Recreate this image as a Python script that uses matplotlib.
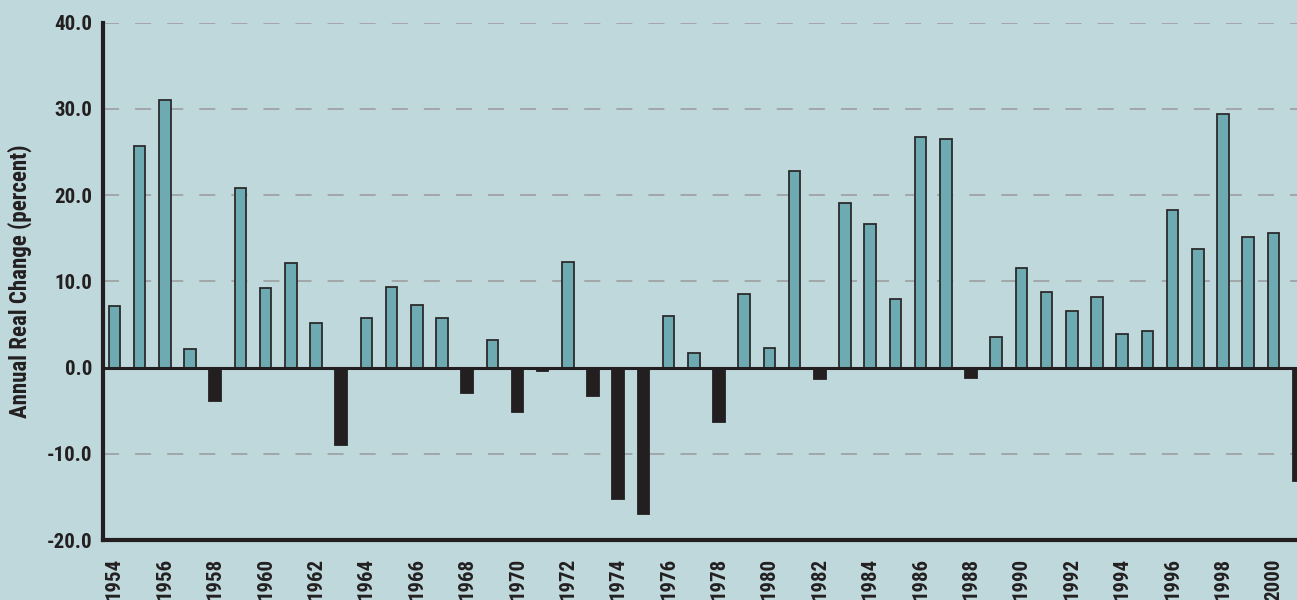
import numpy as np
import matplotlib
matplotlib.use("Agg")
import matplotlib.pyplot as plt

# annual real change (percent), 1954-2001
years = np.arange(1954, 2002)
values = [7.1, 25.7, 31.0, 2.1, -3.9, 20.8, 9.2, 12.1, 5.2, -9.0,
          5.8, 9.4, 7.2, 5.8, -3.0, 3.2, -5.2, -0.4, 12.3, -3.3,
          -15.2, -17.0, 6.0, 1.7, -6.3, 8.5, 2.3, 22.8, -1.3, 19.1,
          16.6, 8.0, 26.8, 26.5, -1.2, 3.6, 11.6, 8.8, 6.6, 8.2,
          3.9, 4.2, 18.3, 13.8, 29.4, 15.2, 15.6, -13.2]
tick_years = np.arange(1954, 2001, 2)
y_ticks = [-20, -10, 0, 10, 20, 30, 40]

plt.rcParams['font.family'] = ['Roboto Condensed', 'DejaVu Sans']

bg = '#bfd8dc'
pos_col = '#6eaab2'
neg_col = '#231f20'
ink = '#231f20'

fig = plt.figure(figsize=(12.97, 6), dpi=100, facecolor=bg)
ax = fig.add_axes([103.3 / 1297, (600 - 540) / 600, (1297 - 103.3) / 1297, (540 - 22.7) / 600])
ax.set_facecolor(bg)

vals = np.array(values)
colors = [pos_col if v >= 0 else neg_col for v in vals]
edges = ['#2b2b2b' if v >= 0 else neg_col for v in vals]
ax.bar(years, vals, width=0.46, color=colors, edgecolor=edges, linewidth=1.3, zorder=3)

ax.axhline(0, color=ink, linewidth=2.2, zorder=4)
# dashed grey guide lines
for y in [-10, 10, 20, 30, 40]:
    ax.axhline(y, color='#9a9a9a', linewidth=1.1, dashes=(10.5, 10.5), zorder=1)

ax.set_xlim(1953.56, 2000.94)
ax.set_ylim(-20, 40)

ax.set_yticks(y_ticks)
ax.set_yticklabels([f"{t:.1f}" for t in y_ticks], fontsize=15, fontweight='bold', color=ink)
ax.set_xticks(tick_years)
ax.set_xticklabels([str(t) for t in tick_years], rotation=90, fontsize=15,
                   fontweight='bold', color=ink, va='top')
ax.tick_params(axis='both', length=0)
ax.tick_params(axis='x', pad=13)
ax.tick_params(axis='y', pad=8)

for s in ['top', 'right']:
    ax.spines[s].set_visible(False)
for s in ['left', 'bottom']:
    ax.spines[s].set_linewidth(3)
    ax.spines[s].set_color(ink)

fig.text(20 / 1297, 1 - 281 / 600, "Annual Real Change (percent)", rotation=90,
         ha='center', va='center', fontsize=16.5, fontweight='bold', color=ink)

fig.savefig("out.png", dpi=100, facecolor=bg)
